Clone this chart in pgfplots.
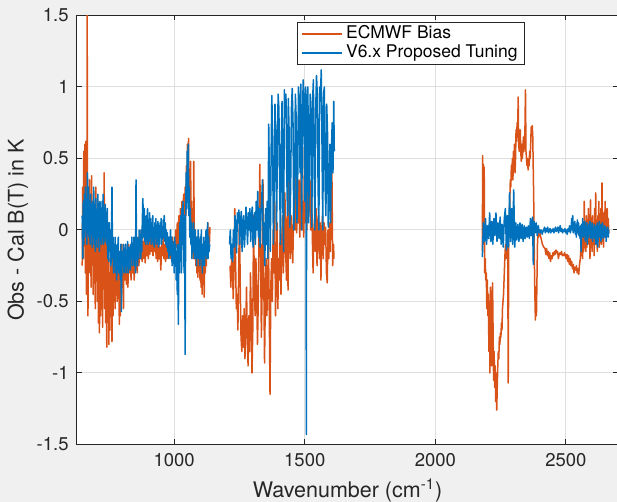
\documentclass[border=0pt]{standalone}
\usepackage{pgfplots}
\pgfplotsset{compat=1.18}
\usepackage{fontspec}
\setmainfont{TeX Gyre Heros}
\definecolor{mOrange}{RGB}{217,83,25}
\definecolor{mBlue}{RGB}{0,114,189}
\definecolor{mAx}{RGB}{38,38,38}
\definecolor{mBg}{RGB}{240,240,240}
\definecolor{mGrid}{RGB}{223,223,223}
\begin{document}
\begin{tikzpicture}
\fill[mBg] (-38.5pt,-28.75pt) rectangle (270pt,222.25pt);
\begin{axis}[
 at={(0pt,0pt)}, anchor=south west,
 scale only axis, width=270.6pt, height=214.5pt,
 xmin=628, xmax=2700, ymin=-1.5, ymax=1.5,
 axis background/.style={fill=white},
 axis line style={mAx, line width=0.5pt},
 xtick={1000,1500,2000,2500}, xticklabels={1000,1500,2000,2500},
 ytick={-1.5,-1,-0.5,0,0.5,1,1.5}, yticklabels={-1.5,-1,-0.5,0,0.5,1,1.5},
 tick align=inside, major tick length=2.5pt, tick style={mAx, line width=0.5pt},
 grid=major, grid style={mGrid, line width=0.5pt},
 ticklabel style={font=\fontsize{9.25}{11}\selectfont, text=mAx},
 xticklabel style={anchor=base, yshift=-11.25pt},
 yticklabel style={anchor=east, xshift=-0.67pt},
 xlabel={Wavenumber (cm\textsuperscript{-1})},
 ylabel={Obs - Cal B(T) in K},
 xlabel style={at={(axis description cs:0.5,-0.1224)}, anchor=base, font=\fontsize{10.75}{13}\selectfont, text=mAx},
 ylabel style={at={(axis description cs:-0.0988,0.5)}, anchor=base, font=\fontsize{10.75}{13}\selectfont, text=mAx},
 legend style={at={(0.4065,0.985)}, anchor=north west, draw=mAx, line width=0.5pt, fill=white, font=\fontsize{8.75}{10.5}\selectfont, text=black, inner ysep=1pt, inner xsep=2pt, row sep=0pt, nodes={inner ysep=0.5pt, inner xsep=1.5pt, text height=6.5pt, text depth=2pt}},
 legend cell align=left,
 legend image code/.code={\draw[#1, line width=0.8pt] (0pt,0pt) -- (20pt,0pt);},
 unbounded coords=jump,
 every axis plot/.append style={line width=0.75pt, line join=round, no marks},
]
\addplot[mOrange] coordinates {
(648,-0.25)(650,0.3)(652,-0.2)(654,0.55)(656,-0.1)(658,0.6)(660,-0.3)(662,0.62)(664,-0.45)(666,0.2)(667,1.6)(668,0.1)(670,-0.6)(672,0.2)(674,-0.3)(676,0.35)(678,-0.2)(680,0.0)(682,-0.4)(684,0.38)(686,-0.15)(688,0.1)(690,-0.45)(692,0.2)(694,-0.35)(696,0.05)(698,-0.55)(700,0.3)(702,-0.3)(704,0.1)(706,-0.5)(708,0.2)(710,-0.65)(712,-0.1)(714,-0.72)(716,0.05)(718,-0.6)(720,0.15)(722,-0.5)(724,0.0)(726,-0.68)(728,0.2)(730,-0.3)(732,0.4)(734,-0.55)(736,0.1)(738,-0.65)(740,-0.2)(742,-0.82)(744,0.05)(746,-0.6)(748,-0.1)(750,-0.8)(752,-0.3)(754,-0.7)(756,-0.2)(758,-0.55)(760,-0.3)(762,-0.78)(764,-0.15)(766,-0.6)(768,-0.25)(770,-0.5)(772,-0.2)(774,-0.55)(776,-0.15)(778,-0.45)(780,-0.25)(782,-0.5)(784,-0.2)(786,-0.4)(788,-0.15)(790,-0.66)(792,-0.25)(794,-0.6)(796,-0.2)(798,-0.45)(800,-0.1)(802,-0.4)(804,-0.2)(806,-0.55)(808,-0.15)(811,-0.35)(814,-0.1)(817,-0.38)(820,-0.2)(823,-0.4)(826,-0.1)(829,-0.3)(832,-0.15)(835,-0.35)(838,-0.1)(841,-0.3)(844,-0.2)(847,-0.35)(850,-0.1)(853,-0.28)(856,-0.15)(859,-0.3)(862,-0.05)(865,-0.25)(868,-0.1)(871,-0.2)(874,0.0)(877,-0.22)(880,-0.08)(883,-0.2)(886,-0.05)(889,-0.23)(892,-0.1)(895,-0.18)(898,0.0)(901,-0.2)(904,-0.08)(907,-0.17)(910,-0.02)(913,-0.15)(916,-0.05)(919,-0.18)(922,-0.06)(925,-0.15)(928,-0.03)(931,-0.2)(934,-0.08)(937,-0.22)(940,-0.05)(943,-0.2)(946,-0.12)(949,-0.28)(952,-0.1)(955,-0.18)(958,-0.05)(961,-0.2)(964,-0.1)(967,-0.22)(970,-0.08)(973,-0.2)(976,-0.1)(979,-0.18)(982,-0.07)(985,-0.2)(988,-0.1)(991,-0.17)(994,-0.05)(997,-0.2)(1000,-0.08)(1003,-0.15)(1006,0.0)(1009,-0.12)(1012,0.05)(1015,-0.1)(1018,0.1)(1021,-0.05)(1024,0.15)(1027,0.0)(1030,0.2)(1033,-0.05)(1036,0.25)(1039,0.05)(1042,0.3)(1045,0.1)(1047,0.45)(1049,0.2)(1051,0.6)(1053,0.3)(1055,0.64)(1057,0.15)(1059,0.4)(1061,0.1)(1063,0.48)(1065,-0.05)(1067,0.2)(1069,-0.1)(1071,0.1)(1073,-0.2)(1075,0.48)(1077,-0.05)(1079,-0.2)(1081,0.0)(1083,-0.25)(1085,-0.05)(1087,-0.3)(1089,-0.1)(1091,-0.33)(1093,-0.08)(1095,-0.28)(1097,-0.1)(1099,-0.35)(1101,-0.15)(1103,-0.4)(1105,-0.2)(1107,-0.45)(1109,-0.15)(1111,-0.38)(1113,-0.1)(1115,-0.47)(1117,-0.2)(1119,-0.3)(1121,-0.05)(1123,-0.25)(1125,0.0)(1127,-0.2)(1129,0.05)(1131,-0.15)(1133,0.0)(1135,-0.1)(1137,0.02)
(1180,nan)
(1214,-0.25)(1217,-0.4)(1220,-0.2)(1223,-0.22)(1226,-0.48)(1229,-0.3)(1232,0.15)(1235,-0.2)(1238,-0.55)(1241,-0.45)(1244,-0.7)(1247,-0.3)(1250,0.12)(1253,-0.4)(1256,-0.75)(1259,-0.85)(1262,-0.6)(1265,-0.82)(1268,-0.55)(1271,-0.9)(1274,-0.7)(1277,-0.4)(1280,-0.75)(1283,-0.95)(1286,-0.6)(1289,-0.85)(1292,-0.3)(1295,-0.55)(1298,-1.0)(1301,-0.7)(1304,0.1)(1307,-0.4)(1310,-0.6)(1313,-0.2)(1316,-0.45)(1319,-0.8)(1322,-0.5)(1325,0.0)(1328,0.46)(1331,-0.2)(1334,-0.75)(1337,-0.4)(1340,0.35)(1343,-0.3)(1346,-0.93)(1349,-0.5)(1352,-0.2)(1355,-0.6)(1358,-0.35)(1361,-0.1)(1364,-0.55)(1367,-1.15)(1370,-0.4)(1373,-0.2)(1376,-0.5)(1379,0.0)(1382,-0.3)(1385,0.2)(1388,-0.6)(1391,-0.3)(1394,0.05)(1397,-0.55)(1400,-0.2)(1403,-0.35)(1406,0.0)(1409,-0.45)(1412,-0.1)(1415,0.1)(1418,-0.3)(1421,-0.1)(1424,0.26)(1427,-0.15)(1430,-0.35)(1433,0.1)(1436,-0.42)(1439,0.4)(1442,0.0)(1445,-0.2)(1448,0.1)(1451,-0.05)(1454,-0.23)(1457,0.05)(1460,0.3)(1463,0.0)(1466,0.4)(1469,-0.02)(1472,0.2)(1475,0.05)(1478,0.35)(1481,-0.05)(1484,0.15)(1487,0.5)(1490,0.0)(1493,0.2)(1496,-0.05)(1499,0.58)(1502,0.05)(1505,0.58)(1508,0.0)(1511,0.3)(1514,0.1)(1517,0.33)(1520,0.35)(1523,0.0)(1526,0.33)(1529,-0.05)(1532,-0.3)(1535,0.0)(1538,0.1)(1541,-0.15)(1544,0.15)(1547,-0.25)(1550,0.05)(1553,0.1)(1556,-0.2)(1559,0.05)(1562,-0.35)(1565,0.0)(1568,0.1)(1571,-0.2)(1574,0.05)(1577,-0.1)(1580,0.02)(1583,-0.3)(1586,-0.37)(1589,0.0)(1592,-0.2)(1595,0.05)(1598,-0.15)(1601,0.3)(1604,0.4)(1607,-0.25)(1610,-0.1)(1612,-0.2)
(1900,nan)
(2180,-0.15)(2181,0.52)(2183,0.1)(2184,0.46)(2186,-0.1)(2187,0.44)(2189,-0.3)(2191,-0.2)(2193,-0.35)(2195,-0.3)(2197,-0.55)(2199,-0.35)(2201,-0.6)(2203,-0.45)(2205,-0.85)(2207,-0.5)(2209,-1.0)(2211,-0.4)(2213,-0.8)(2215,-0.95)(2217,-0.6)(2219,-0.37)(2221,-0.7)(2223,-1.05)(2225,-0.85)(2227,-1.1)(2229,-0.95)(2231,-1.2)(2233,-1.0)(2235,-1.26)(2237,-1.1)(2239,-0.95)(2241,-0.85)(2243,-0.9)(2245,-0.75)(2247,-0.8)(2249,-0.72)(2251,-0.75)(2253,-0.65)(2255,-0.7)(2257,-0.55)(2259,-0.5)(2261,-0.45)(2263,-0.35)(2265,-0.25)(2267,-0.15)(2269,-0.1)(2271,-0.2)(2273,-0.1)(2275,-0.15)(2277,-0.05)(2279,-1.07)(2281,-0.05)(2283,0.05)(2285,0.2)(2287,0.35)(2289,0.3)(2291,0.45)(2293,0.4)(2295,0.5)(2297,0.35)(2299,0.55)(2301,0.45)(2303,0.6)(2305,0.4)(2307,0.5)(2309,0.7)(2311,0.62)(2313,0.75)(2315,0.65)(2317,0.93)(2319,0.6)(2321,0.55)(2323,0.62)(2325,0.7)(2327,0.55)(2329,0.48)(2331,0.6)(2333,0.5)(2335,0.55)(2337,0.65)(2339,0.55)(2341,0.62)(2343,0.7)(2345,0.98)(2347,0.55)(2349,0.5)(2351,0.45)(2353,0.5)(2355,0.42)(2357,0.48)(2359,0.45)(2361,0.55)(2363,0.5)(2365,0.6)(2367,0.72)(2369,0.68)(2371,0.73)(2373,0.65)(2375,0.4)(2377,0.16)(2379,-0.2)(2381,-0.45)(2383,-0.63)(2385,-0.4)(2387,-0.6)(2389,-0.35)(2391,-0.1)(2393,-0.02)(2395,-0.05)(2397,-0.02)(2399,0.0)(2401,-0.03)(2405,-0.06)(2410,-0.1)(2415,-0.12)(2420,-0.13)(2423,-0.17)(2426,-0.13)(2429,-0.18)(2432,-0.15)(2435,-0.2)(2438,-0.16)(2441,-0.22)(2444,-0.18)(2447,-0.2)(2450,-0.16)(2453,-0.18)(2456,-0.15)(2459,-0.17)(2462,-0.14)(2465,-0.16)(2468,-0.15)(2471,-0.2)(2474,-0.17)(2477,-0.16)(2480,-0.17)(2483,-0.15)(2486,-0.18)(2489,-0.17)(2492,-0.18)(2495,-0.16)(2498,-0.18)(2501,-0.2)(2504,-0.17)(2507,-0.22)(2510,-0.18)(2513,-0.24)(2516,-0.2)(2519,-0.25)(2522,-0.22)(2525,-0.27)(2528,-0.24)(2531,-0.3)(2534,-0.26)(2537,-0.28)(2540,-0.25)(2543,-0.3)(2546,-0.27)(2549,-0.31)(2552,-0.24)(2555,-0.2)(2558,-0.1)(2560,-0.18)(2562,0.0)(2564,-0.2)(2566,0.05)(2568,-0.15)(2570,0.2)(2572,-0.1)(2574,-0.02)(2576,-0.15)(2578,0.1)(2580,-0.12)(2582,0.0)(2584,-0.08)(2586,0.15)(2588,-0.1)(2590,0.05)(2592,-0.2)(2594,0.21)(2596,-0.05)(2598,0.0)(2600,-0.15)(2602,0.1)(2604,-0.1)(2606,0.05)(2608,-0.18)(2610,0.15)(2612,-0.05)(2614,0.26)(2616,-0.1)(2618,0.05)(2620,-0.15)(2622,0.1)(2624,-0.05)(2626,0.2)(2628,-0.12)(2630,0.0)(2632,-0.08)(2634,0.15)(2636,-0.1)(2638,0.33)(2640,-0.05)(2642,0.05)(2644,-0.12)(2646,0.12)(2648,-0.05)(2650,0.2)(2652,0.0)(2654,0.1)(2656,-0.05)(2658,0.15)(2660,0.0)(2662,0.08)(2664,-0.02)
};
\addlegendentry{ECMWF Bias}
\addplot[mBlue] coordinates {
(648,0.1)(650,-0.2)(652,0.2)(654,-0.1)(656,0.25)(658,-0.05)(660,0.3)(662,0.0)(664,0.22)(666,-0.1)(668,0.4)(670,0.05)(672,0.3)(674,-0.05)(676,0.2)(678,-0.1)(680,0.25)(682,0.0)(684,0.18)(686,-0.12)(688,0.2)(690,-0.05)(692,0.3)(694,-0.1)(696,0.15)(698,-0.15)(700,0.22)(702,0.0)(704,0.1)(706,-0.12)(708,0.25)(710,-0.05)(712,0.18)(714,-0.15)(716,0.2)(718,0.0)(720,0.15)(722,-0.1)(724,0.2)(726,-0.05)(728,0.25)(730,-0.1)(732,0.1)(734,-0.08)(736,0.18)(738,-0.05)(740,0.08)(742,-0.1)(744,0.15)(746,-0.2)(748,0.05)(750,-0.22)(752,0.05)(754,-0.15)(756,0.0)(758,-0.25)(760,-0.05)(762,0.3)(764,-0.2)(766,-0.05)(768,-0.3)(770,-0.1)(772,-0.25)(774,-0.05)(776,-0.3)(778,-0.15)(780,-0.35)(782,-0.1)(784,-0.2)(786,-0.05)(788,-0.3)(790,-0.15)(792,-0.2)(794,-0.35)(796,-0.1)(798,-0.57)(800,-0.2)(802,-0.15)(804,-0.25)(806,-0.1)(808,-0.3)(810,-0.15)(812,-0.25)(814,-0.1)(816,-0.3)(818,-0.15)(820,-0.25)(822,-0.08)(824,-0.3)(826,-0.15)(828,-0.25)(830,-0.12)(832,-0.28)(834,-0.1)(836,-0.2)(838,-0.05)(840,-0.25)(842,-0.1)(844,-0.15)(846,-0.05)(848,-0.25)(850,-0.1)(852,-0.3)(854,0.35)(856,-0.2)(858,-0.05)(860,-0.25)(862,-0.1)(864,-0.2)(866,0.0)(868,-0.15)(870,-0.05)(872,-0.2)(874,0.0)(876,-0.15)(878,0.05)(880,0.22)(882,0.1)(884,-0.05)(886,0.15)(888,-0.08)(890,0.05)(892,-0.1)(894,0.1)(896,-0.05)(898,0.15)(900,-0.1)(902,0.05)(904,-0.08)(906,0.12)(908,-0.05)(910,0.08)(912,-0.1)(914,0.05)(916,-0.05)(918,0.1)(920,-0.1)(922,0.0)(924,-0.12)(926,0.05)(928,-0.05)(930,0.08)(932,-0.1)(934,0.02)(936,-0.08)(938,0.06)(940,-0.12)(942,0.0)(944,-0.1)(946,0.05)(948,-0.05)(950,0.08)(952,-0.1)(954,0.02)(956,-0.06)(958,0.07)(960,-0.05)(962,0.1)(964,-0.08)(966,0.05)(968,-0.1)(970,0.0)(972,-0.12)(974,-0.02)(976,-0.15)(978,-0.05)(980,-0.2)(982,-0.05)(984,-0.15)(986,0.0)(988,-0.18)(990,-0.05)(992,-0.25)(994,-0.08)(996,-0.2)(998,-0.1)(1000,-0.3)(1002,-0.05)(1004,-0.2)(1006,-0.1)(1008,-0.35)(1010,-0.15)(1012,-0.45)(1014,-0.1)(1016,-0.66)(1018,-0.2)(1020,-0.3)(1022,0.05)(1024,-0.2)(1026,0.1)(1028,-0.3)(1030,0.15)(1032,-0.1)(1034,0.2)(1036,-0.05)(1038,-0.3)(1040,0.1)(1042,-0.87)(1044,0.05)(1046,0.4)(1048,0.15)(1050,0.55)(1052,0.3)(1054,0.6)(1056,0.1)(1058,0.3)(1060,-0.05)(1062,0.15)(1064,-0.1)(1066,0.05)(1068,-0.2)(1070,0.0)(1072,-0.15)(1074,0.05)(1076,-0.1)(1078,-0.2)(1080,0.0)(1082,-0.15)(1084,-0.05)(1086,-0.25)(1088,-0.05)(1090,-0.15)(1092,0.0)(1094,-0.2)(1096,-0.1)(1098,-0.25)(1100,-0.05)(1102,-0.2)(1104,0.0)(1106,-0.15)(1108,-0.3)(1110,-0.1)(1112,-0.2)(1114,-0.05)(1116,-0.25)(1118,-0.1)(1120,-0.15)(1122,0.0)(1124,-0.2)(1126,-0.1)(1128,0.05)(1130,-0.2)(1132,-0.05)(1134,-0.15)(1136,-0.1)
(1180,nan)
(1212,-0.1)(1215,0.0)(1218,-0.2)(1221,-0.1)(1224,-0.22)(1227,0.0)(1230,-0.12)(1233,0.1)(1236,0.0)(1239,-0.16)(1242,0.12)(1245,0.05)(1248,0.14)(1251,-0.1)(1254,0.05)(1257,0.13)(1260,-0.15)(1263,0.05)(1266,0.1)(1269,-0.12)(1272,0.0)(1275,0.16)(1278,0.05)(1281,-0.1)(1284,0.12)(1287,0.0)(1290,0.15)(1293,-0.08)(1296,0.1)(1299,0.16)(1302,-0.12)(1305,0.05)(1308,0.12)(1311,-0.1)(1314,0.2)(1317,0.0)(1320,0.27)(1323,-0.05)(1326,0.15)(1329,-0.12)(1332,0.1)(1335,0.2)(1338,0.35)(1341,-0.1)(1344,0.05)(1347,-0.25)(1350,0.15)(1353,-0.1)(1356,0.2)(1359,-0.2)(1362,0.74)(1365,0.3)(1368,-0.15)(1371,0.5)(1374,0.94)(1377,0.6)(1380,-0.1)(1383,0.3)(1386,0.88)(1389,0.7)(1392,0.0)(1395,0.5)(1398,0.95)(1401,0.85)(1404,0.3)(1407,-0.1)(1410,0.6)(1413,0.9)(1416,0.2)(1419,-0.15)(1422,0.98)(1425,0.8)(1428,0.95)(1431,0.4)(1434,0.1)(1437,0.92)(1440,0.7)(1443,0.02)(1446,0.3)(1449,0.85)(1452,0.99)(1455,0.75)(1458,0.0)(1461,0.2)(1464,0.95)(1467,0.8)(1470,0.05)(1473,0.35)(1476,1.0)(1479,0.9)(1482,0.4)(1485,1.02)(1488,0.0)(1491,0.75)(1494,1.05)(1497,0.9)(1500,0.2)(1503,1.0)(1505,0.6)(1506,-1.43)(1507,0.3)(1509,0.9)(1512,1.0)(1515,0.05)(1518,0.5)(1521,0.95)(1524,0.8)(1527,0.02)(1530,0.9)(1533,1.05)(1536,0.4)(1539,0.0)(1542,0.85)(1545,1.08)(1548,0.95)(1551,0.3)(1554,0.0)(1557,1.0)(1560,0.9)(1563,1.12)(1566,0.6)(1569,0.0)(1572,0.95)(1575,1.0)(1578,0.3)(1581,0.1)(1584,0.88)(1587,0.7)(1590,0.02)(1593,0.2)(1596,0.6)(1599,0.05)(1602,0.55)(1605,0.75)(1608,0.4)(1611,0.9)(1613,0.55)
(1900,nan)
(2180,-0.19)(2184,0.05)(2188,-0.08)(2192,0.08)(2196,-0.1)(2200,0.03)(2204,-0.06)(2208,0.12)(2212,-0.08)(2216,0.06)(2220,-0.1)(2224,0.08)(2228,-0.04)(2232,0.12)(2236,-0.08)(2240,0.05)(2244,-0.06)(2248,0.09)(2252,-0.1)(2256,0.04)(2260,-0.12)(2264,0.08)(2268,0.15)(2272,-0.14)(2276,0.1)(2280,-0.12)(2284,0.26)(2288,-0.08)(2292,0.15)(2296,-0.1)(2300,0.28)(2304,-0.12)(2308,0.05)(2312,-0.07)(2316,0.04)(2320,-0.08)(2324,0.05)(2328,-0.06)(2332,0.04)(2336,-0.08)(2340,0.03)(2344,-0.06)(2348,0.02)(2352,-0.05)(2356,0.03)(2360,-0.06)(2364,0.08)(2368,-0.04)(2372,0.09)(2375,-0.24)(2378,0.06)(2382,-0.02)(2386,0.05)(2390,-0.04)(2394,0.03)(2398,-0.02)(2401,0.0)(2403,-0.02)(2406,0.0)(2409,-0.03)(2412,-0.01)(2415,0.0)(2418,0.02)(2421,-0.02)(2424,0.01)(2427,-0.01)(2430,0.02)(2433,-0.02)(2436,0.0)(2439,0.01)(2442,-0.02)(2445,0.0)(2448,-0.01)(2451,0.01)(2454,-0.02)(2457,0.0)(2460,0.02)(2463,-0.01)(2466,0.0)(2469,0.02)(2472,-0.02)(2475,0.01)(2478,0.03)(2481,-0.01)(2484,0.01)(2487,-0.02)(2490,0.0)(2493,-0.01)(2496,0.01)(2499,-0.02)(2502,0.0)(2505,-0.03)(2508,0.01)(2511,-0.01)(2514,0.03)(2517,-0.02)(2520,0.02)(2522,0.08)(2524,0.0)(2526,0.1)(2528,-0.02)(2530,0.05)(2532,0.0)(2534,0.06)(2536,-0.03)(2538,0.04)(2540,-0.05)(2542,0.03)(2544,0.07)(2546,-0.02)(2548,0.05)(2550,-0.04)(2552,0.02)(2554,-0.06)(2556,0.03)(2558,-0.15)(2560,0.04)(2562,-0.03)(2564,0.08)(2566,-0.05)(2568,0.03)(2570,-0.02)(2572,0.06)(2574,-0.08)(2576,0.02)(2578,-0.04)(2580,0.05)(2582,-0.1)(2584,0.02)(2586,-0.05)(2588,0.04)(2590,-0.03)(2592,0.06)(2594,-0.06)(2596,0.0)(2598,-0.04)(2600,0.05)(2602,-0.08)(2604,0.0)(2606,-0.03)(2608,0.04)(2610,-0.06)(2612,0.02)(2614,-0.1)(2616,0.03)(2618,-0.05)(2620,0.05)(2622,-0.12)(2624,0.0)(2626,-0.04)(2628,0.06)(2630,-0.05)(2632,0.02)(2634,-0.08)(2636,0.04)(2638,-0.03)(2640,0.05)(2642,-0.06)(2644,0.0)(2646,-0.04)(2648,0.03)(2650,-0.05)(2652,0.02)(2654,-0.08)(2656,0.0)(2658,-0.03)(2660,0.02)(2662,-0.05)(2664,0.0)
};
\addlegendentry{V6.x Proposed Tuning}
\end{axis}
\pgfresetboundingbox
\path[use as bounding box] (-38.5pt,-28.75pt) rectangle (270pt,222.25pt);
\end{tikzpicture}
\end{document}
